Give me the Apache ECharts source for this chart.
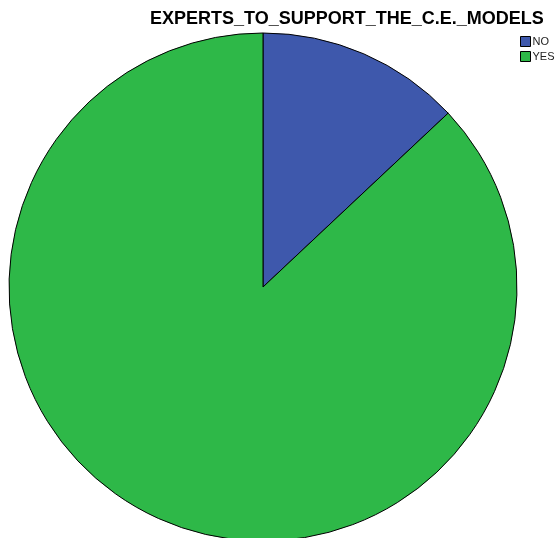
<!DOCTYPE html>
<html>
<head>
<meta charset="utf-8">
<script src="https://cdn.jsdelivr.net/npm/echarts@6/dist/echarts.min.js"></script>
<style>
html,body{margin:0;padding:0;background:#fff;}
#chart{width:558px;height:538px;}
</style>
</head>
<body>
<div id="chart"></div>
<script>
var titleText = 'EXPERTS_TO_SUPPORT_THE_C.E._MODELS';
var categories = ['NO', 'YES'];
var values = [13, 87];
var colors = ['#3E58AC', '#2EB848'];

var chart = echarts.init(document.getElementById('chart'), null, {renderer: 'canvas'});
chart.setOption({
  animation: false,
  backgroundColor: '#ffffff',
  title: {
    text: titleText,
    left: 150,
    top: 10,
    padding: 0,
    textStyle: {fontFamily: 'Liberation Sans, Arial, sans-serif', fontWeight: 'bold', fontSize: 18, color: '#000'}
  },
  legend: {
    orient: 'vertical',
    left: 520,
    top: 36,
    padding: 0,
    itemWidth: 10,
    itemHeight: 10,
    itemGap: 4,
    icon: 'rect',
    data: categories,
    itemStyle: {borderColor: '#000', borderWidth: 1},
    textStyle: {fontFamily: 'Liberation Sans, Arial, sans-serif', fontSize: 11, color: '#222', padding: [0,0,0,-3]}
  },
  color: colors,
  series: [{
    type: 'pie',
    center: [263, 287],
    radius: 254,
    startAngle: 90,
    clockwise: true,
    label: {show: false},
    labelLine: {show: false},
    emphasis: {disabled: true},
    itemStyle: {borderColor: '#000', borderWidth: 1},
    data: categories.map(function (c, i) { return {name: c, value: values[i]}; })
  }]
});
</script>
</body>
</html>
